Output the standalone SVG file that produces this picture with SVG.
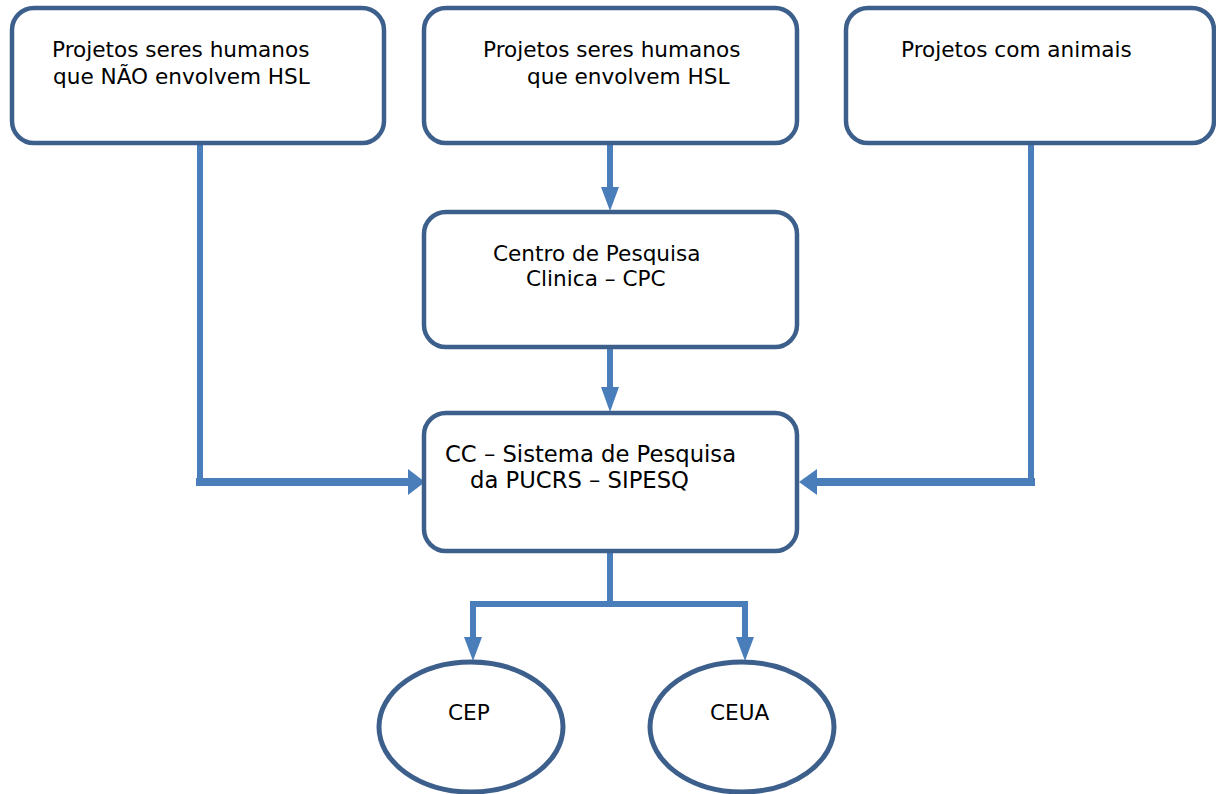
<svg xmlns="http://www.w3.org/2000/svg" width="1216" height="794" viewBox="0 0 1216 794">
<style>
.box{fill:#fff;stroke:#3c5f8c;stroke-width:4.5}
.el{fill:#fff;stroke:#3c5f8c;stroke-width:5}
.t{font-family:"DejaVu Sans","Verdana",sans-serif;font-size:21.6px;fill:#000}
.tl{font-size:22.7px}
.ln{fill:none;stroke:#4a7ebb;stroke-width:6}
.lnb{fill:none;stroke:#4a7ebb;stroke-width:8}
.ah{fill:#4a7ebb}
</style>
<rect width="1216" height="794" fill="#fff"/>
<g id="connectors">
<path class="ln" d="M200 143 V482"/>
<path class="lnb" d="M196 482 H410"/>
<polygon class="ah" points="408,469 425,482 408,495"/>
<path class="ln" d="M1031 143 V482"/>
<path class="lnb" d="M1035 482 H815"/>
<polygon class="ah" points="817,469 799,482 817,495"/>
<path class="ln" d="M610 143 V190"/>
<polygon class="ah" points="601,187 619,187 610,211"/>
<path class="ln" d="M610 347 V390"/>
<polygon class="ah" points="601,387 619,387 610,412"/>
<path class="ln" d="M610 552 V604"/>
<path class="ln" d="M473 604 H745"/>
<path class="ln" d="M473 601 V640"/>
<polygon class="ah" points="464,637 482,637 473,661"/>
<path class="ln" d="M745 601 V640"/>
<polygon class="ah" points="736,637 754,637 745,661"/>
</g>
<g id="n1"><rect class="box" x="12" y="8" width="372" height="135" rx="22"/>
<text class="t" x="52" y="57">Projetos seres humanos</text><text class="t" x="53" y="84">que NÃO envolvem HSL</text></g>
<g id="n2"><rect class="box" x="424" y="8" width="373" height="135" rx="22"/>
<text class="t" x="483" y="57">Projetos seres humanos</text><text class="t" x="527" y="84">que envolvem HSL</text></g>
<g id="n3"><rect class="box" x="846" y="8" width="368" height="135" rx="22"/>
<text class="t" x="901" y="57">Projetos com animais</text></g>
<g id="n4"><rect class="box" x="424" y="212" width="373" height="135" rx="22"/>
<text class="t" x="493" y="261">Centro de Pesquisa</text><text class="t" x="526" y="286">Clinica – CPC</text></g>
<g id="n5"><rect class="box" x="424" y="413" width="373" height="138" rx="22"/>
<text class="t tl" x="445" y="462">CC – Sistema de Pesquisa</text><text class="t tl" x="470" y="488">da PUCRS – SIPESQ</text></g>
<g id="n6"><ellipse class="el" cx="471" cy="727" rx="92" ry="65"/>
<text class="t" x="448" y="720">CEP</text></g>
<g id="n7"><ellipse class="el" cx="742" cy="727" rx="92" ry="65"/>
<text class="t" x="710" y="720">CEUA</text></g>
</svg>
